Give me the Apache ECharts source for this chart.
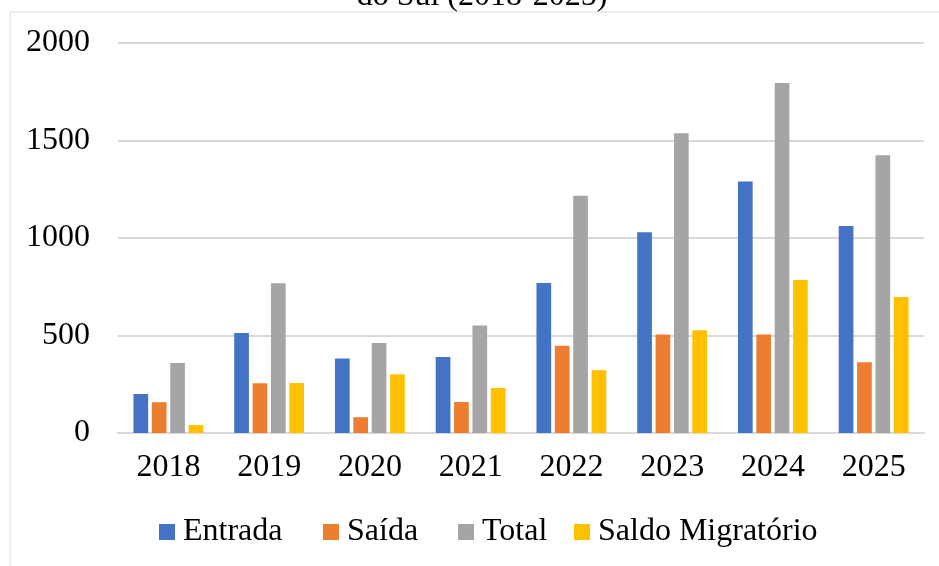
<!DOCTYPE html>
<html>
<head>
<meta charset="utf-8">
<title>Migração 2018-2025</title>
<script src="https://cdn.jsdelivr.net/npm/echarts@6/dist/echarts.min.js"></script>
<style>
  html, body { margin: 0; padding: 0; background: #fff; }
  #main { width: 939px; height: 566px; }
</style>
</head>
<body>
<div id="main"></div>
<script>
// dados
var anos = ['2018', '2019', '2020', '2021', '2022', '2023', '2024', '2025'];
var entrada = [200, 513, 382, 390, 769, 1030, 1290, 1061];
var saida = [158, 255, 81, 159, 447, 505, 505, 363];
var total = [359, 768, 462, 551, 1217, 1537, 1795, 1424];
var saldo = [41, 256, 301, 231, 322, 527, 784, 697];
var nomes = ['Entrada', 'Saída', 'Total', 'Saldo Migratório'];
var cores = ['#4472C4', '#ED7D31', '#A5A5A5', '#FFC000'];
var titulo = 'do Sul (2018-2025)';

var fonte = '"Liberation Serif", "Times New Roman", serif';
var tam = 32;
// posicao de cada item da legenda (como no Excel, espacamento irregular)
var legendaX = [154, 318, 453, 569];

var chart = echarts.init(document.getElementById('main'));

function serie(i, dados) {
  return {
    name: nomes[i],
    type: 'bar',
    data: dados,
    barWidth: 14.7,
    barGap: '25%',
    itemStyle: { color: cores[i] }
  };
}

var legendas = nomes.map(function (n, i) {
  return {
    data: [n],
    left: legendaX[i],
    top: 511,
    itemWidth: 16,
    itemHeight: 16,
    icon: 'rect',
    selectedMode: false,
    textStyle: { fontFamily: fonte, fontSize: tam, color: '#000', padding: [0, 0, 0, 3] }
  };
});

var option = {
  animation: false,
  textStyle: { fontFamily: fonte },
  graphic: [
    {
      type: 'rect',
      shape: { x: 10, y: 12, width: 960, height: 600 },
      style: { fill: 'none', stroke: '#d9d9d9', lineWidth: 1 },
      silent: true
    },
    {
      type: 'text',
      x: 482,
      y: 13,
      style: {
        text: titulo,
        fontFamily: fonte,
        fontSize: tam,
        fill: '#000',
        align: 'center',
        verticalAlign: 'bottom'
      }
    }
  ],
  legend: legendas,
  grid: { left: 118, right: 15, top: 43, bottom: 133 },
  xAxis: {
    type: 'category',
    data: anos,
    axisTick: { show: false },
    axisLine: { lineStyle: { color: '#d9d9d9', width: 2 } },
    axisLabel: { fontFamily: fonte, fontSize: tam, color: '#000', margin: 19 }
  },
  yAxis: {
    type: 'value',
    min: 0,
    max: 2000,
    interval: 500,
    axisLine: { show: false },
    axisTick: { show: false },
    splitLine: { lineStyle: { color: '#d9d9d9', width: 2 } },
    axisLabel: {
      fontFamily: fonte, fontSize: tam, color: '#000', margin: 28,
      formatter: function (v) { return String(v); }
    }
  },
  series: [
    serie(0, entrada),
    serie(1, saida),
    serie(2, total),
    serie(3, saldo)
  ]
};

chart.setOption(option);
</script>
</body>
</html>
